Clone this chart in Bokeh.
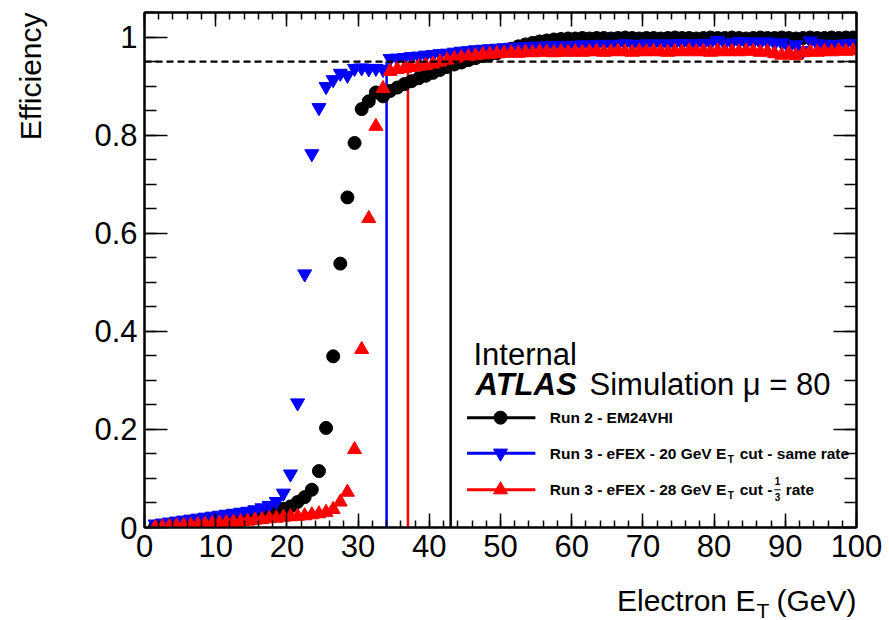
import math
from bokeh.plotting import figure
from bokeh.layouts import column, row
from bokeh.models import (Range1d, LinearAxis, SingleIntervalTicker,
                          CustomJSTickFormatter, Label, Span)
from bokeh.embed import file_html
from bokeh.resources import INLINE

# ---------------- data ----------------
# bin centres of 1 GeV bins, 1.5 ... 99.5 GeV
et_bins = [b + 0.5 for b in range(1, 100)]

# Run 2 - EM24VHI
eff_run2 = [
    0.002, 0.003, 0.004, 0.005, 0.006, 0.007, 0.008, 0.009, 0.010, 0.011,
    0.012, 0.014, 0.016, 0.018, 0.020, 0.023, 0.027, 0.032, 0.038, 0.043,
    0.052, 0.062, 0.077, 0.115, 0.203, 0.349, 0.538, 0.673, 0.784, 0.853,
    0.869, 0.887, 0.879, 0.890, 0.897, 0.904, 0.910, 0.916, 0.921, 0.927,
    0.933, 0.939, 0.944, 0.948, 0.953, 0.957, 0.961, 0.964, 0.967, 0.971,
    0.976, 0.981, 0.985, 0.988, 0.991, 0.993, 0.995, 0.996, 0.997, 0.997,
    0.998, 0.997, 0.998, 0.998, 0.997, 0.998, 0.999, 0.998, 0.997, 0.998,
    0.998, 0.997, 0.998, 0.999, 0.998, 0.998, 0.997, 0.998, 0.999, 0.998,
    0.998, 0.999, 0.998, 0.997, 0.998, 0.999, 0.998, 0.998, 0.999, 0.998,
    0.997, 0.998, 0.999, 0.998, 0.998, 0.999, 0.998, 0.999, 0.999,
]

# Run 3 - eFEX - 20 GeV ET cut - same rate
eff_run3_20 = [
    0.007, 0.009, 0.011, 0.013, 0.015, 0.017, 0.019, 0.021, 0.023, 0.025,
    0.027, 0.029, 0.031, 0.033, 0.036, 0.040, 0.045, 0.053, 0.070, 0.109,
    0.254, 0.517, 0.762, 0.856, 0.899, 0.913, 0.926, 0.922, 0.936, 0.937,
    0.935, 0.936, 0.934, 0.956, 0.957, 0.958, 0.960, 0.961, 0.963, 0.964,
    0.966, 0.967, 0.969, 0.971, 0.972, 0.974, 0.975, 0.976, 0.977, 0.978,
    0.979, 0.979, 0.980, 0.981, 0.981, 0.982, 0.982, 0.983, 0.982, 0.983,
    0.984, 0.983, 0.984, 0.985, 0.984, 0.985, 0.986, 0.985, 0.984, 0.986,
    0.985, 0.986, 0.984, 0.986, 0.987, 0.985, 0.986, 0.987, 0.987, 0.993,
    0.986, 0.988, 0.991, 0.987, 0.990, 0.988, 0.990, 0.987, 0.988, 0.978,
    0.984, 0.972, 0.992, 0.986, 0.980, 0.985, 0.984, 0.986, 0.987,
]

# Run 3 - eFEX - 28 GeV ET cut - 1/3 rate
eff_run3_28 = [
    0.000, 0.001, 0.002, 0.003, 0.004, 0.005, 0.006, 0.007, 0.008, 0.009,
    0.010, 0.011, 0.012, 0.013, 0.015, 0.016, 0.018, 0.019, 0.021, 0.022,
    0.023, 0.024, 0.026, 0.028, 0.031, 0.037, 0.052, 0.072, 0.159, 0.363,
    0.630, 0.818, 0.895, 0.930, 0.934, 0.936, 0.938, 0.940, 0.942, 0.945,
    0.949, 0.953, 0.956, 0.958, 0.960, 0.962, 0.964, 0.965, 0.966, 0.967,
    0.968, 0.967, 0.969, 0.968, 0.970, 0.969, 0.968, 0.970, 0.969, 0.970,
    0.969, 0.970, 0.971, 0.969, 0.970, 0.971, 0.970, 0.969, 0.971, 0.970,
    0.971, 0.970, 0.969, 0.971, 0.970, 0.972, 0.970, 0.971, 0.969, 0.972,
    0.970, 0.971, 0.970, 0.972, 0.971, 0.969, 0.970, 0.966, 0.963, 0.967,
    0.962, 0.968, 0.970, 0.969, 0.971, 0.970, 0.972, 0.971, 0.972,
]

# 95% efficiency points (vertical markers) and the 95% reference level
threshold_et = [43, 34, 37]
threshold_colors = ["black", "blue", "red"]
plateau_level = 0.95

x_ticks_interval = 10
y_ticks_interval = 0.2

FONT = "Liberation Sans"
W_TOTAL, H_TOTAL = 889, 620
W_LEFT = 48                 # strip holding the y title
W_MAIN = W_TOTAL - W_LEFT
H_BOTTOM = 38               # strip holding the x title
H_MAIN = H_TOTAL - H_BOTTOM
BORDER_L = 144 - W_LEFT
BORDER_R = 33

# ---------------- main figure ----------------
p = figure(width=W_MAIN, height=H_MAIN,
           x_range=Range1d(0, 100), y_range=Range1d(0, 1.05),
           output_backend="svg", toolbar_location=None,
           min_border_left=BORDER_L, min_border_right=BORDER_R,
           min_border_top=12, min_border_bottom=H_MAIN - 527)
p.background_fill_color = "white"
p.border_fill_color = "white"
p.outline_line_color = "black"
p.outline_line_width = 2
p.xgrid.grid_line_color = None
p.ygrid.grid_line_color = None

xt = SingleIntervalTicker(interval=x_ticks_interval, num_minor_ticks=5)
yt = SingleIntervalTicker(interval=y_ticks_interval, num_minor_ticks=4)
yfmt = CustomJSTickFormatter(code="""
    if (Math.abs(tick) < 1e-9) return "0";
    if (Math.abs(tick - 1) < 1e-9) return "1";
    return tick.toFixed(1);
""")

def style_axis(ax, major, minor, labels=True):
    ax.axis_line_width = 2
    ax.axis_line_color = "black"
    ax.major_tick_line_width = 1.5
    ax.minor_tick_line_width = 1.5
    ax.major_tick_in = major
    ax.major_tick_out = 0
    ax.minor_tick_in = minor
    ax.minor_tick_out = 0
    if labels:
        ax.major_label_text_font = FONT
        ax.major_label_text_font_size = "31px"
        ax.major_label_text_color = "black"
        ax.major_label_standoff = 7
    else:
        ax.major_label_text_font_size = "1px"
        ax.major_label_text_color = None
        ax.major_label_standoff = 0

p.xaxis.ticker = xt
p.yaxis.ticker = yt
p.yaxis.formatter = yfmt
style_axis(p.xaxis[0], 14, 7)
style_axis(p.yaxis[0], 23, 12)

top_ax = LinearAxis(ticker=SingleIntervalTicker(interval=x_ticks_interval, num_minor_ticks=5))
style_axis(top_ax, 14, 7, labels=False)
p.add_layout(top_ax, "above")
right_ax = LinearAxis(ticker=SingleIntervalTicker(interval=y_ticks_interval, num_minor_ticks=4))
style_axis(right_ax, 23, 12, labels=False)
p.add_layout(right_ax, "right")

# 95% reference
p.add_layout(Span(location=plateau_level, dimension="width", line_color="black",
                  line_width=2.2, line_dash="7 4"))
# vertical 95% lines
p.segment(x0=threshold_et, y0=[0] * 3, x1=threshold_et, y1=[plateau_level] * 3,
          line_color=threshold_colors, line_width=2.5)

# data markers
p.scatter(et_bins, eff_run2, marker="circle", size=13,
          fill_color="black", line_color="black")
p.scatter(et_bins, eff_run3_20, marker="inverted_triangle", size=14,
          fill_color="blue", line_color="blue")
p.scatter(et_bins, eff_run3_28, marker="triangle", size=14,
          fill_color="red", line_color="red")

# ---------------- texts (anchored at their vertical middle) ----------------
def lab(fig, x, y, text, size, style="normal", align="left", baseline="middle",
        angle=0.0, color="black", font=FONT):
    fig.add_layout(Label(x=x, y=y, text=text, text_font=font,
                         text_font_size=size, text_font_style=style,
                         text_align=align, text_baseline=baseline,
                         angle=angle, text_color=color))

# ATLAS labels
lab(p, 46.2, 0.3527, "Internal", "31px")
lab(p, 46.5, 0.2918, "ATLAS", "31px", style="bold italic")
lab(p, 62.5, 0.2918, "Simulation \u03bc = 80", "31px")

# legend
leg_y = [0.2239, 0.1516, 0.0769]
leg_colors = ["black", "blue", "red"]
leg_markers = ["circle", "inverted_triangle", "triangle"]
leg_x0, leg_x1, leg_xm, leg_tx = 45.3, 54.9, 50.0, 56.92
for yy, c, m in zip(leg_y, leg_colors, leg_markers):
    p.segment(x0=[leg_x0], y0=[yy], x1=[leg_x1], y1=[yy], line_color=c, line_width=3)
    p.scatter([leg_xm], [yy], marker=m, size=13 if m == "circle" else 14,
              fill_color=c, line_color=c)

LS = "15.5px"
lab(p, leg_tx, leg_y[0], "Run 2 - EM24VHI", LS, style="bold")
lab(p, leg_tx, leg_y[1], "Run 3 - eFEX - 20 GeV E", LS, style="bold")
lab(p, 81.9, leg_y[1] - 0.0125, "T", "10px", style="bold")
lab(p, 83.6, leg_y[1], "cut - same rate", LS, style="bold")
lab(p, leg_tx, leg_y[2], "Run 3 - eFEX - 28 GeV E", LS, style="bold")
lab(p, 81.9, leg_y[2] - 0.0125, "T", "10px", style="bold")
lab(p, 83.6, leg_y[2], "cut -", LS, style="bold")
lab(p, 88.9, leg_y[2] + 0.0176, "1", "10px", style="bold", align="center")
lab(p, 88.9, leg_y[2] - 0.0150, "3", "10px", style="bold", align="center")
p.segment(x0=[88.45], y0=[leg_y[2]], x1=[89.35], y1=[leg_y[2]], line_color="black", line_width=1)
lab(p, 90.05, leg_y[2], "rate", LS, style="bold")

def strip(w, h, xr, yr, bl=0, br=0):
    f = figure(width=w, height=h, x_range=xr, y_range=yr, title=None,
               output_backend="svg", toolbar_location=None,
               x_axis_type=None, y_axis_type=None,
               min_border_left=bl, min_border_right=br,
               min_border_top=0, min_border_bottom=0)
    f.outline_line_color = None
    f.background_fill_color = "white"
    f.border_fill_color = "white"
    f.xgrid.grid_line_color = None
    f.ygrid.grid_line_color = None
    return f

# x-axis title strip: shares the x scale of the main plot; y = pixels above strip bottom
pt = strip(W_MAIN, H_BOTTOM, p.x_range, Range1d(0, H_BOTTOM), bl=BORDER_L, br=BORDER_R)
lab(pt, 85.8, 20, "Electron E", "30px", align="right")
lab(pt, 85.95, 10.5, "T", "21px")
lab(pt, 100.0, 20, "(GeV)", "30px", align="right")

# y-axis title strip (pixel coordinates, y measured from the strip bottom)
pl = strip(W_LEFT, H_TOTAL, Range1d(0, W_LEFT), Range1d(0, H_TOTAL))
lab(pl, 30, H_TOTAL - 12, "Efficiency", "30px", align="right", angle=math.pi / 2)

layout = row(pl, column(p, pt, spacing=0), spacing=0)
open("out.html", "w").write(file_html(layout, INLINE))
